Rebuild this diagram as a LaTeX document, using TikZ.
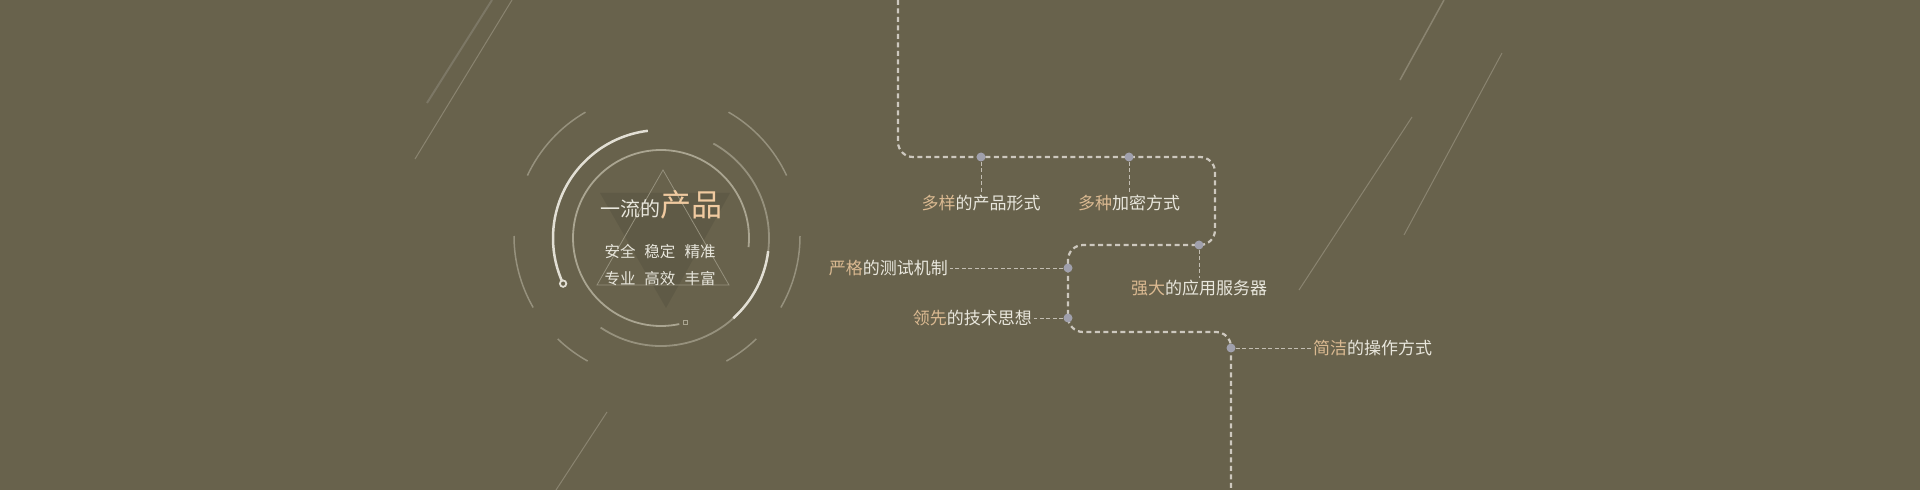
\documentclass[tikz,border=0pt]{standalone}
\usepackage{fontspec}
\setmainfont{Noto Sans CJK SC}

\definecolor{bg}{RGB}{104,98,76}
\definecolor{txt}{RGB}{232,230,220}
\definecolor{peach}{RGB}{218,185,145}
\definecolor{peachlight}{RGB}{240,202,160}
\definecolor{pathgray}{RGB}{205,200,190}
\definecolor{stemgray}{RGB}{195,190,178}
\definecolor{dotgray}{RGB}{160,160,172}
\definecolor{ringgray}{RGB}{150,145,125}
\definecolor{innergray}{RGB}{170,165,145}
\definecolor{brightgray}{RGB}{226,223,212}
\definecolor{decogray}{RGB}{138,132,112}

\newcommand{\warm}[1]{\textcolor{peach}{#1}}

\begin{document}
\begin{tikzpicture}[x=1pt,y=1pt,
  route/.style={draw=pathgray,line width=2.2pt,dash pattern=on 5pt off 3.5pt,rounded corners=15pt},
  stem/.style={draw=stemgray,line width=0.8pt,dash pattern=on 4pt off 2.5pt},
  dot/.style={circle,fill=dotgray,inner sep=0pt,minimum size=9pt},
  feat/.style={text=txt,font=\fontsize{17}{20}\selectfont,inner sep=2pt},
  ring/.style={draw=ringgray,line width=1.5pt},
  bright/.style={draw=brightgray,line width=2.5pt},
  deco/.style={draw=decogray,line width=1pt}]

  % Background
  \useasboundingbox (0,0) rectangle (1920,490);
  \fill[bg] (-5,-5) rectangle (1925,495);

  % Slanted lines
  \draw[deco,line width=2pt,draw=decogray!90!black] (427,387) -- (492,490);
  \draw[deco] (415,331) -- (512,490);
  \draw[deco,line width=1.5pt] (1400,410) -- (1444,490);
  \draw[deco] (1299,200) -- (1412,373);
  \draw[deco] (1404,255) -- (1502,437);
  \draw[deco] (556,0) -- (607,78);

  % Rings
  \coordinate (co) at (657,254);
  \coordinate (c) at (661,252);
  \foreach \a/\b in {25/60,120/155,180/210,330/360,226/241,299/314}
    \draw[ring] (co) ++(\a:143) arc[start angle=\a,end angle=\b,radius=143];
  \draw[ring,line width=1.8pt] (c) ++(236:108) arc[start angle=236,end angle=421,radius=108];
  \draw[bright] (c) ++(312:108) arc[start angle=312,end angle=353,radius=108];
  \draw[bright] (c) ++(97:108) arc[start angle=97,end angle=205,radius=108];
  \draw[bright,line width=1.8pt,fill=bg] (c) ++(205:108) circle[radius=3.2];
  \draw[innergray,line width=1.8pt] (c) ++(-6:88) arc[start angle=-6,end angle=282,radius=88];
  \draw[innergray,line width=1pt] (c) ++(286:88) +(-2.2,-2.2) rectangle +(2.2,2.2);

  % Triangles
  \fill[black,opacity=0.08] (600,297) -- (730,297) -- (666,182) -- cycle;
  \draw[ringgray,line width=0.8pt] (663,320) -- (597,205) -- (729,205) -- cycle;

  % Title
  \node[anchor=base,text=txt,inner sep=0pt] (title) at (661,273)
    {{\fontsize{20}{24}\selectfont 一流的}{\fontsize{31}{36}\selectfont\color{peachlight}产品}};
  \node[text=txt,align=center,font=\fontsize{15.5}{27}\selectfont] (traits) at (660,224.5)
    {安全\hspace{9pt}稳定\hspace{9pt}精准\\专业\hspace{9pt}高效\hspace{9pt}丰富};

  % Route
  \coordinate (p0) at (898,490);
  \coordinate (p1) at (898,333);
  \coordinate (p2) at (1215,333);
  \coordinate (p3) at (1215,245);
  \coordinate (p4) at (1068,245);
  \coordinate (p5) at (1068,158);
  \coordinate (p6) at (1231,158);
  \coordinate (p7) at (1231,0);
  \draw[route] (p0) -- (p1) -- (p2) -- (p3) -- (p4) -- (p5) -- (p6) -- (p7);

  % Stops
  \node[dot] (d1) at (981,333) {};
  \node[dot] (d2) at (1129,333) {};
  \node[dot] (d3) at (1199,245) {};
  \node[dot] (d4) at (1068,222) {};
  \node[dot] (d5) at (1068,172) {};
  \node[dot] (d6) at (1231,142) {};

  % Features
  \node[feat] (l1) at (981,287) {\warm{多样}的产品形式};
  \node[feat] (l2) at (1129,287) {\warm{多种}加密方式};
  \node[feat] (l3) at (1199,202) {\warm{强大}的应用服务器};
  \node[feat,anchor=east] (l4) at (950,222) {\warm{严格}的测试机制};
  \node[feat,anchor=east] (l5) at (1034,172) {\warm{领先}的技术思想};
  \node[feat,anchor=west] (l6) at (1311,142) {\warm{简洁}的操作方式};
  \foreach \i in {1,...,6}
    \draw[stem] (d\i) -- (l\i);

\end{tikzpicture}
\end{document}
